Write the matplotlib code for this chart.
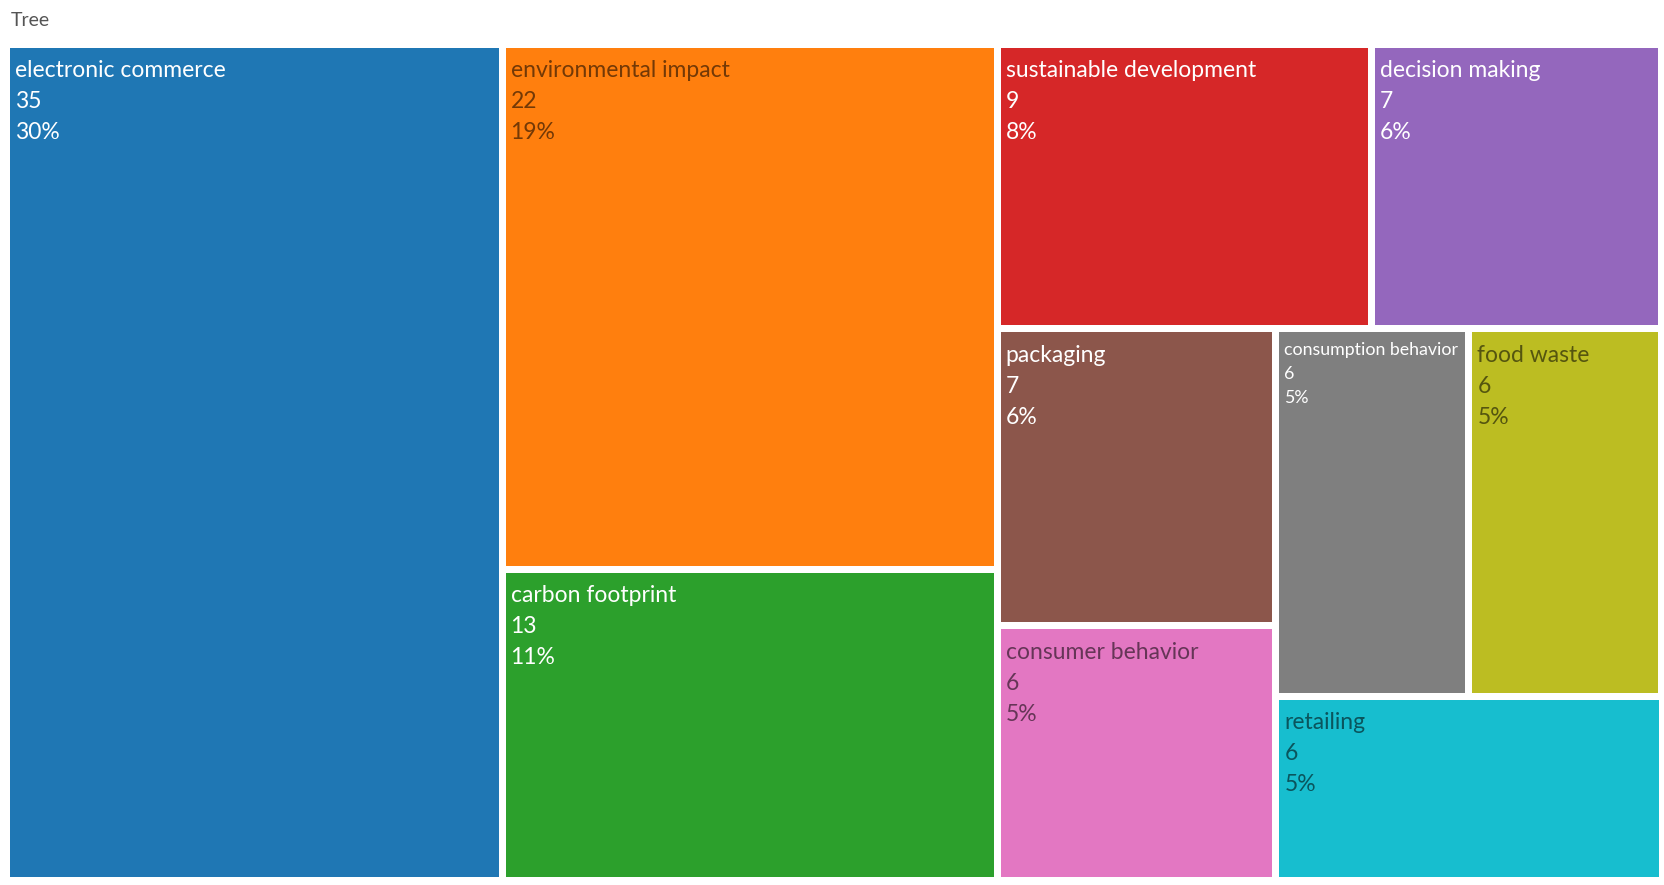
import matplotlib
matplotlib.use("Agg")
import matplotlib.pyplot as plt
from matplotlib.patches import Rectangle

plt.rcParams["font.family"] = ["Lato", "DejaVu Sans"]

# data
labels = [
    "electronic commerce", "environmental impact", "carbon footprint",
    "sustainable development", "decision making", "packaging",
    "consumer behavior", "consumption behavior", "food waste", "retailing",
]
values = [35, 22, 13, 9, 7, 7, 6, 6, 6, 6]
colors = [
    "#1f77b4", "#ff7f0e", "#2ca02c", "#d62728", "#9467bd",
    "#8c564b", "#e377c2", "#7f7f7f", "#bcbd22", "#17becf",
]
dark_text = {"environmental impact", "consumer behavior", "food waste", "retailing"}

W, H = 1655.0, 836.0
GAP = 7.0


def worst(row, side):
    s = sum(row)
    return max(max(side * side * r / (s * s), s * s / (side * side * r)) for r in row)


def squarify(areas, x, y, w, h):
    """Squarified treemap (Bruls et al.), areas already scaled to w*h."""
    rects = []
    areas = list(areas)
    while areas:
        side = min(w, h)
        row = [areas.pop(0)]
        while areas and worst(row + [areas[0]], side) <= worst(row, side):
            row.append(areas.pop(0))
        s = sum(row)
        if w >= h:
            # column on the left
            cw = s / h
            cy = y
            for a in row:
                rh = a / cw
                rects.append((x, cy, cw, rh))
                cy += rh
            x += cw
            w -= cw
        else:
            # row along the top
            rh = s / w
            cx = x
            for a in row:
                rw = a / rh
                rects.append((cx, y, rw, rh))
                cx += rw
            y += rh
            h -= rh
    return rects


total = sum(values)
areas = [v / total * W * H for v in values]
rects = squarify(areas, 0.0, 0.0, W, H)

fig = plt.figure(figsize=(16.65, 8.85), dpi=100)
ax = fig.add_axes([7 / 1665, 5 / 885, W / 1665, H / 885])
ax.set_xlim(0, W)
ax.set_ylim(H, 0)
ax.axis("off")

fig.text(11 / 1665, 1 - 21 / 885, "Tree", fontsize=14, color="#555555",
         ha="left", va="center")

renderer = fig.canvas.get_renderer()
base_fs = 16.5
for (x, y, w, h), lab, val, col in zip(rects, labels, values, colors):
    ax.add_patch(Rectangle((x + GAP / 2, y + GAP / 2), w - GAP, h - GAP,
                           facecolor=col, edgecolor="none"))
    if lab in dark_text:
        tc, ta = "black", 0.55
    else:
        tc, ta = "white", 1.0
    # shrink font when the name does not fit the tile
    fs = base_fs
    t = ax.text(0, 0, lab, fontsize=fs)
    tw = t.get_window_extent(renderer).width
    t.remove()
    avail = w - GAP - 12
    if tw > avail:
        fs = fs * avail / tw
    step = 31 * fs / base_fs
    tx = x + GAP / 2 + 5
    ty = y + GAP / 2 + 23 * fs / base_fs
    pct = f"{round(val / total * 100):.0f}%"
    for i, line in enumerate([lab, str(val), pct]):
        ax.text(tx, ty + i * step, line, fontsize=fs, color=tc, alpha=ta,
                ha="left", va="center")

fig.savefig("out.png", dpi=100)
